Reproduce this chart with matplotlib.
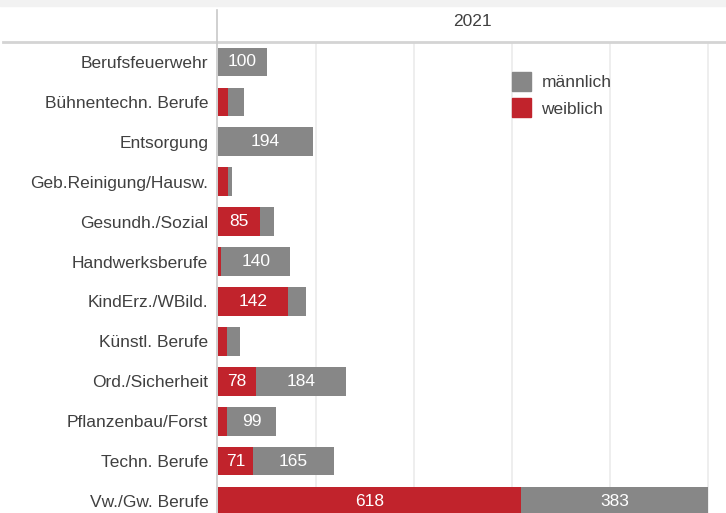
import numpy as np
import matplotlib.pyplot as plt
from matplotlib.patches import Rectangle
from matplotlib.lines import Line2D

plt.rcParams['font.family'] = ['Liberation Sans Narrow', 'Liberation Sans', 'DejaVu Sans']

categories = ['Berufsfeuerwehr', 'Bühnentechn. Berufe', 'Entsorgung', 'Geb.Reinigung/Hausw.',
              'Gesundh./Sozial', 'Handwerksberufe', 'KindErz./WBild.', 'Künstl. Berufe',
              'Ord./Sicherheit', 'Pflanzenbau/Forst', 'Techn. Berufe', 'Vw./Gw. Berufe']
weiblich = [0, 20, 0, 20, 85, 7, 142, 19, 78, 19, 71, 618]
maennlich = [100, 33, 194, 9, 30, 140, 38, 25, 184, 99, 165, 383]
year = '2021'

red = '#c1232c'
gray = '#878787'
text_col = '#404040'

W, H = 726, 513
fig = plt.figure(figsize=(W / 100, H / 100), dpi=100)

# top light strip
fig.patches.append(Rectangle((0, 1 - 6 / H), 1, 6 / H, transform=fig.transFigure,
                             color='#f2f2f2', zorder=0))

x0, y_top = 218, 42
ax = fig.add_axes([x0 / W, 0, (W - x0) / W, (H - y_top) / H])
y = np.arange(len(categories))
h = 0.72
ax.barh(y, weiblich, height=h, color=red, label='weiblich')
ax.barh(y, maennlich, left=weiblich, height=h, color=gray, label='männlich')

for i in range(len(categories)):
    if weiblich[i] >= 60:
        ax.text(weiblich[i] / 2, i, str(weiblich[i]), color='white', ha='center', va='center', fontsize=12.5)
    if maennlich[i] >= 60:
        ax.text(weiblich[i] + maennlich[i] / 2, i, str(maennlich[i]), color='white',
                ha='center', va='center', fontsize=12.5)

ax.set_xlim(0, 1037)
ax.set_ylim(11.3, -0.5)
ax.set_xticks([200, 400, 600, 800, 1000])
ax.set_xticklabels([])
ax.tick_params(axis='x', length=0)
ax.grid(axis='x', color='#ebebeb', linewidth=1.2)
ax.set_axisbelow(True)
ax.set_yticks(y)
ax.set_yticklabels(categories, fontsize=12.5, color=text_col)
ax.tick_params(axis='y', length=0, pad=7)
for s in ax.spines.values():
    s.set_visible(False)

handles = [Rectangle((0, 0), 1, 1, color=gray), Rectangle((0, 0), 1, 1, color=red)]
ax.legend(handles, ['männlich', 'weiblich'], loc='upper left', bbox_to_anchor=(0.548, 0.97),
          frameon=False, fontsize=12.5, handlelength=1.1, handleheight=1.3, labelcolor=text_col,
          handletextpad=0.6, labelspacing=0.45)

# header
fig.text((x0 + W) / 2 / W, 1 - 22 / H, year, ha='center', va='center', fontsize=12.5, color=text_col)
fig.add_artist(Line2D([3 / W, 1], [1 - 42 / H, 1 - 42 / H], transform=fig.transFigure,
                      color='#d4d4d4', linewidth=2))
fig.add_artist(Line2D([(x0 - 1) / W, (x0 - 1) / W], [0, 1 - 10 / H], transform=fig.transFigure,
                      color='#c8c8c8', linewidth=1.2))

fig.savefig('out.png', dpi=100)
